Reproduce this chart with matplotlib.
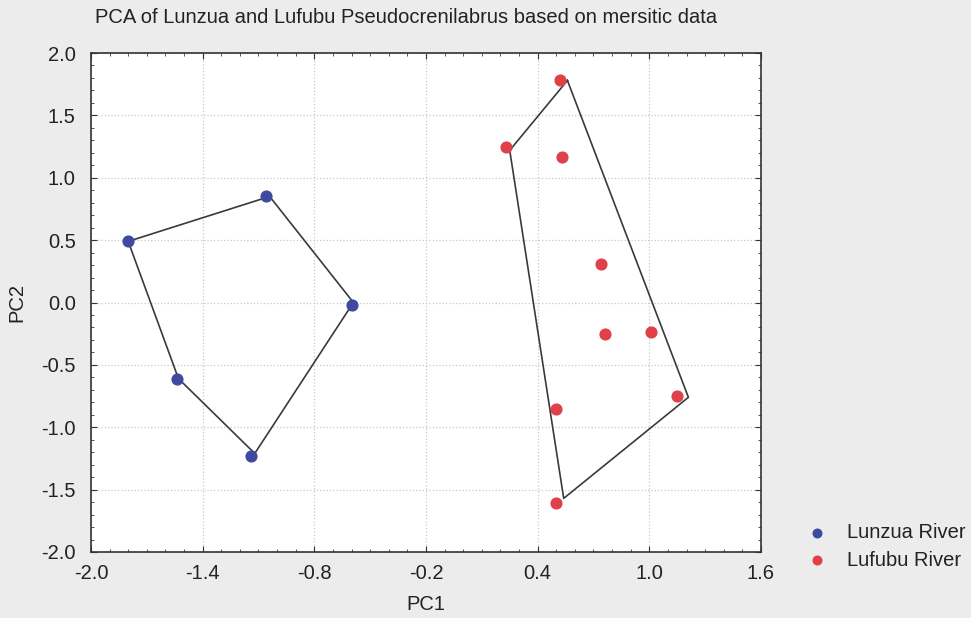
import matplotlib
matplotlib.use("Agg")
import matplotlib.pyplot as plt
from matplotlib.ticker import MultipleLocator

plt.rcParams['font.family'] = ['Liberation Sans', 'DejaVu Sans']

# PCA scores per river
lunzua_pc1 = [-1.80, -1.06, -0.60, -1.54, -1.14]
lunzua_pc2 = [0.49, 0.85, -0.02, -0.61, -1.23]
lufubu_pc1 = [0.52, 0.23, 0.53, 0.74, 0.76, 1.01, 1.15, 0.50, 0.50]
lufubu_pc2 = [1.78, 1.25, 1.17, 0.31, -0.25, -0.24, -0.75, -0.85, -1.61]

# outline vertices around each group
lunzua_hull_pc1 = [-1.80, -1.04, -0.59, -1.12, -1.53]
lunzua_hull_pc2 = [0.49, 0.85, 0.00, -1.21, -0.61]
lufubu_hull_pc1 = [0.56, 0.25, 0.54, 1.21]
lufubu_hull_pc2 = [1.78, 1.22, -1.57, -0.76]

xticks = [-2.0, -1.4, -0.8, -0.2, 0.4, 1.0, 1.6]
yticks = [-2.0, -1.5, -1.0, -0.5, 0.0, 0.5, 1.0, 1.5, 2.0]

text_col = '#222222'
fig = plt.figure(figsize=(9.71, 6.18), dpi=100, facecolor='#ececec')
ax = fig.add_axes([0.0937, 0.1068, 0.690, 0.8074])
ax.set_facecolor('white')

for hx, hy in [(lunzua_hull_pc1, lunzua_hull_pc2), (lufubu_hull_pc1, lufubu_hull_pc2)]:
    ax.plot(hx + hx[:1], hy + hy[:1], color='#3a3a3a', lw=1.2, zorder=2)

ax.scatter(lunzua_pc1, lunzua_pc2, s=60, color='#3d4aa0', label='Lunzua River', zorder=3)
ax.scatter(lufubu_pc1, lufubu_pc2, s=60, color='#e0404a', label='Lufubu River', zorder=3)

ax.set_xlim(-2.0, 1.6)
ax.set_ylim(-2.0, 2.0)
ax.set_xticks(xticks)
ax.set_yticks(yticks)
ax.set_xticklabels([f'{v:.1f}' for v in xticks])
ax.set_yticklabels([f'{v:.1f}' for v in yticks])
ax.xaxis.set_minor_locator(MultipleLocator(0.1))
ax.yaxis.set_minor_locator(MultipleLocator(0.1))
ax.tick_params(which='both', direction='in', top=True, right=True, colors='#333333',
               labelcolor=text_col, labelsize=14.5)
ax.tick_params(which='major', length=4)
ax.tick_params(which='minor', length=2.5)
ax.tick_params(axis='x', pad=9)
ax.tick_params(axis='y', pad=11)
ax.grid(True, which='major', color='#c8c8c8', linestyle=':', linewidth=0.9)
for sp in ax.spines.values():
    sp.set_color('#333333')
    sp.set_linewidth(1.2)

ax.set_xlabel('PC1', fontsize=14.5, color=text_col, labelpad=8)
ax.set_ylabel('PC2', fontsize=14.5, color=text_col, labelpad=11)
fig.text(0.098, 0.972, 'PCA of Lunzua and Lufubu Pseudocrenilabrus based on mersitic data',
         fontsize=14.5, color=text_col, va='center', ha='left')

ax.legend(loc='center left', bbox_to_anchor=(1.026, 0.011), frameon=False, fontsize=14.5,
          handletextpad=0.5, labelspacing=0.4, markerscale=0.8, labelcolor=text_col)

fig.savefig('out.png', dpi=100, facecolor=fig.get_facecolor())
